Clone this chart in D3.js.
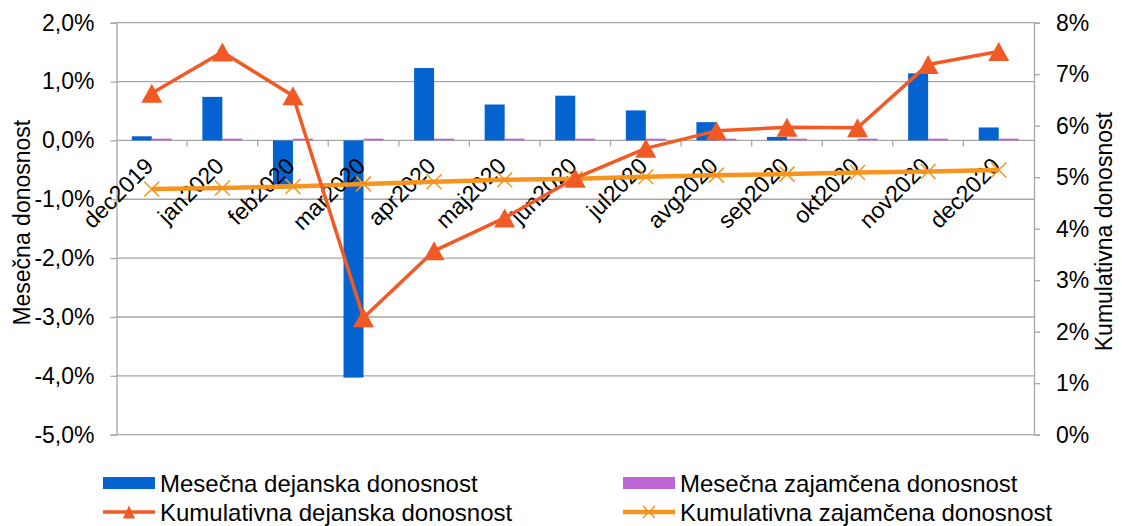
<!DOCTYPE html>
<html>
<head>
<meta charset="utf-8">
<script src="https://cdn.jsdelivr.net/npm/d3@7"></script>
<style>
  html, body { margin: 0; padding: 0; background: #fff; }
  svg text { font-family: "Liberation Sans", Arial, sans-serif; fill: #000; }
</style>
</head>
<body>
<svg id="chart" width="1122" height="526"></svg>
<script>
const categories = ["dec2019","jan2020","feb2020","mar2020","apr2020","maj2020","jun2020","jul2020","avg2020","sep2020","okt2020","nov2020","dec2020"];
const monthlyActual = [0.07, 0.74, -0.75, -4.03, 1.23, 0.61, 0.76, 0.51, 0.31, 0.06, 0.00, 1.14, 0.22];
const monthlyGuaranteed = [0.03, 0.03, 0.03, 0.03, 0.03, 0.03, 0.03, 0.03, 0.03, 0.03, 0.03, 0.03, 0.03];
const cumulativeActual = [6.63, 7.43, 6.58, 2.27, 3.57, 4.21, 4.98, 5.56, 5.90, 5.97, 5.96, 7.19, 7.44];
const cumulativeGuaranteed = [4.77, 4.79, 4.82, 4.87, 4.91, 4.95, 4.97, 5.01, 5.04, 5.06, 5.09, 5.11, 5.14];
const leftTicks = [2, 1, 0, -1, -2, -3, -4, -5];
const rightTicks = [0, 1, 2, 3, 4, 5, 6, 7, 8];
const seriesNames = ["Mesečna dejanska donosnost", "Mesečna zajamčena donosnost", "Kumulativna dejanska donosnost", "Kumulativna zajamčena donosnost"];
const leftTitle = "Mesečna donosnost";
const rightTitle = "Kumulativna donosnost";

const C_BLUE = "#0563D0", C_PURPLE = "#BB66D4", C_RED = "#F15A24", C_ORANGE = "#F7941E", C_GRID = "#A6A6A6";
const FS = 23;
const FS_LEG = 24;

const svg = d3.select("#chart");
const L = 116.5, R = 1034, T = 22.7, B = 434.7;

const x = d3.scaleBand().domain(categories).range([L, R]).padding(0);
const bw = x.bandwidth();
const xs = d3.scaleBand().domain(["a", "g"]).range([bw / 2 - 20, bw / 2 + 20]).padding(0);
const yL = d3.scaleLinear().domain([-5, 2]).range([B, T]);
const yR = d3.scaleLinear().domain([0, 8]).range([B, T]);
const fmtL = v => d3.format(".1f")(v).replace(".", ",").replace("−", "-") + "%";
const fmtR = v => v + "%";

// gridlines
svg.append("g").selectAll("line").data(leftTicks).join("line")
  .attr("x1", L).attr("x2", R).attr("y1", d => yL(d)).attr("y2", d => yL(d))
  .attr("stroke", C_GRID).attr("stroke-width", 1.3);

// left axis
const gL = svg.append("g").attr("transform", `translate(${L},0)`)
  .call(d3.axisLeft(yL).tickValues(leftTicks).tickSize(6).tickPadding(16).tickFormat(fmtL));
gL.select(".domain").attr("stroke", C_GRID).attr("stroke-width", 1.3);
gL.selectAll(".tick line").attr("stroke", C_GRID).attr("stroke-width", 1.3);
gL.selectAll(".tick text").attr("font-size", FS).attr("font-family", "Liberation Sans, Arial, sans-serif");

// right axis
const gR = svg.append("g").attr("transform", `translate(${R},0)`)
  .call(d3.axisRight(yR).tickValues(rightTicks).tickSize(6).tickPadding(16).tickFormat(fmtR));
gR.select(".domain").attr("stroke", C_GRID).attr("stroke-width", 1.3);
gR.selectAll(".tick line").attr("stroke", C_GRID).attr("stroke-width", 1.3);
gR.selectAll(".tick text").attr("font-size", FS).attr("font-family", "Liberation Sans, Arial, sans-serif");

// bars
const bars = svg.append("g");
bars.selectAll("rect.a").data(categories).join("rect").attr("class", "a")
  .attr("x", (d) => x(d) + xs("a")).attr("width", xs.bandwidth())
  .attr("y", (d, i) => yL(Math.max(0, monthlyActual[i])))
  .attr("height", (d, i) => Math.abs(yL(monthlyActual[i]) - yL(0)))
  .attr("fill", C_BLUE);
bars.selectAll("rect.g").data(categories).join("rect").attr("class", "g")
  .attr("x", (d) => x(d) + xs("g")).attr("width", xs.bandwidth())
  .attr("y", (d, i) => yL(Math.max(0, monthlyGuaranteed[i])))
  .attr("height", (d, i) => Math.max(1.5, Math.abs(yL(monthlyGuaranteed[i]) - yL(0))))
  .attr("fill", C_PURPLE);

// x-axis ticks at zero
const y0 = yL(0);
svg.append("g").selectAll("line").data(categories.slice(1)).join("line")
  .attr("x1", d => x(d)).attr("x2", d => x(d)).attr("y1", y0).attr("y2", y0 + 6)
  .attr("stroke", C_GRID).attr("stroke-width", 1.3);

// x labels
svg.append("g").selectAll("text").data(categories).join("text")
  .attr("transform", d => `translate(${x(d) + bw / 2 + 3},${y0 + 27}) rotate(-45)`)
  .attr("text-anchor", "end").attr("font-size", FS).text(d => d);

const cx = d => x(d) + bw / 2;

// cumulative guaranteed line
svg.append("path").datum(categories)
  .attr("d", d3.line().x(cx).y((d, i) => yR(cumulativeGuaranteed[i])))
  .attr("fill", "none").attr("stroke", C_ORANGE).attr("stroke-width", 4.5).attr("stroke-linejoin", "round");
const xm = 7.5;
svg.append("g").selectAll("path").data(categories).join("path")
  .attr("d", (d, i) => {
    const px = cx(d), py = yR(cumulativeGuaranteed[i]);
    return `M${px - xm},${py - xm}L${px + xm},${py + xm}M${px - xm},${py + xm}L${px + xm},${py - xm}`;
  })
  .attr("stroke", C_ORANGE).attr("stroke-width", 1.5).attr("fill", "none");

// cumulative actual line
svg.append("path").datum(categories)
  .attr("d", d3.line().x(cx).y((d, i) => yR(cumulativeActual[i])))
  .attr("fill", "none").attr("stroke", C_RED).attr("stroke-width", 3.5).attr("stroke-linejoin", "round");
const tri = (px, py, w, h) => `M${px},${py - h / 2}L${px + w / 2},${py + h / 2}L${px - w / 2},${py + h / 2}Z`;
svg.append("g").selectAll("path").data(categories).join("path")
  .attr("d", (d, i) => tri(cx(d), yR(cumulativeActual[i]), 21, 19))
  .attr("fill", C_RED);

// axis titles
svg.append("text").attr("transform", `translate(30,${(T + B) / 2 - 6}) rotate(-90)`)
  .attr("text-anchor", "middle").attr("font-size", FS).text(leftTitle);
svg.append("text").attr("transform", `translate(1112,${(T + B) / 2 + 3}) rotate(-90)`)
  .attr("text-anchor", "middle").attr("font-size", FS).text(rightTitle);

// legend
const lg = svg.append("g");
const legendItems = [
  { name: seriesNames[0], type: "rect", color: C_BLUE, x: 103, y: 483 },
  { name: seriesNames[1], type: "rect", color: C_PURPLE, x: 623, y: 483 },
  { name: seriesNames[2], type: "tri", color: C_RED, x: 103, y: 512 },
  { name: seriesNames[3], type: "x", color: C_ORANGE, x: 623, y: 512 }
];
legendItems.forEach(it => {
  const g = lg.append("g");
  if (it.type === "rect") {
    g.append("rect").attr("x", it.x).attr("y", it.y - 6).attr("width", 52).attr("height", 12).attr("fill", it.color);
  } else {
    g.append("line").attr("x1", it.x).attr("x2", it.x + 52).attr("y1", it.y).attr("y2", it.y)
      .attr("stroke", it.color).attr("stroke-width", it.type === "tri" ? 3.5 : 4.5);
    if (it.type === "tri") {
      g.append("path").attr("d", tri(it.x + 26, it.y, 12, 13)).attr("fill", it.color);
    } else {
      const m = 6, px = it.x + 26, py = it.y;
      g.append("path").attr("d", `M${px - m},${py - m}L${px + m},${py + m}M${px - m},${py + m}L${px + m},${py - m}`)
        .attr("stroke", it.color).attr("stroke-width", 1.5);
    }
  }
  g.append("text").attr("x", it.x + 57).attr("y", it.y).attr("dy", "0.36em").attr("font-size", FS_LEG).text(it.name);
});
</script>
</body>
</html>
